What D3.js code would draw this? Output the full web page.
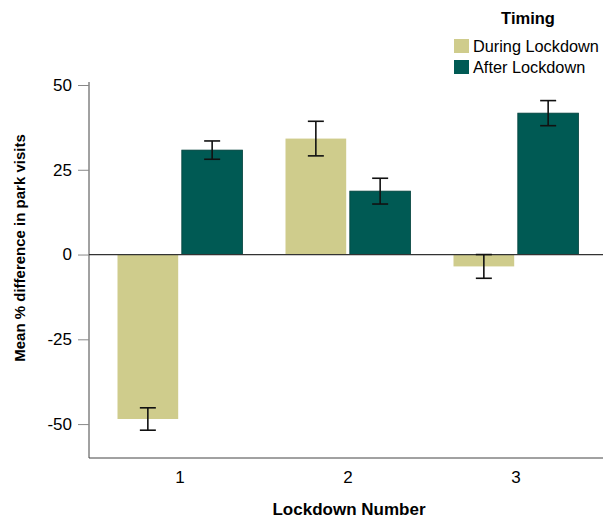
<!DOCTYPE html>
<html><head><meta charset="utf-8">
<script src="https://cdn.jsdelivr.net/npm/d3@7"></script>
<style>body{margin:0;background:#fff}svg{display:block}text{font-family:"Liberation Sans",Arial,sans-serif;fill:#000}</style>
</head><body><svg id="c" width="603" height="518"></svg>
<script>
const categories = ["1","2","3"];
const seriesNames = ["During Lockdown","After Lockdown"];
const duringValues = [-48.5, 34.2, -3.5];
const duringErr = [3.3, 5.1, 3.5];
const afterValues = [30.8, 18.7, 41.7];
const afterErr = [2.7, 3.8, 3.7];
const yTicks = [50, 25, 0, -25, -50];
const colors = ["#cfcc8c", "#005a54"];

const svg = d3.select("#c");
const x = d3.scaleBand().domain(categories).range([96, 600]);
const xs = d3.scaleBand().domain(seriesNames).range([21.5, 168-21.5]).paddingInner(0.056);
const y = d3.scaleLinear().domain([-60, 50]).range([458, 85]);

const data = [];
categories.forEach((c,i)=>{
  data.push({c, s:seriesNames[0], v:duringValues[i], e:duringErr[i], col:colors[0]});
  data.push({c, s:seriesNames[1], v:afterValues[i], e:afterErr[i], col:colors[1]});
});

// axes
const yAxis = svg.append("g").attr("transform","translate(89,0)")
  .call(d3.axisLeft(y).tickValues(yTicks).tickSize(11).tickPadding(6).tickFormat(d=>String(d)));
yAxis.select(".domain").attr("d", `M0,${y(50)-3}V458`).attr("stroke","#444");
yAxis.selectAll(".tick line").attr("stroke","#888");
yAxis.selectAll("text").style("font-size","17px");

const xAxis = svg.append("g").attr("transform","translate(0,458)")
  .call(d3.axisBottom(x).tickSize(0).tickPadding(13));
xAxis.select(".domain").attr("d","M89,0H603").attr("stroke","#444");
xAxis.selectAll("text").style("font-size","17px");

// bars
svg.append("g").selectAll("rect").data(data).join("rect")
  .attr("x", d=>x(d.c)+xs(d.s))
  .attr("width", xs.bandwidth())
  .attr("y", d=>y(Math.max(0,d.v)))
  .attr("height", d=>Math.abs(y(d.v)-y(0)))
  .attr("fill", d=>d.col)
  .attr("stroke", d=>d.s===seriesNames[1]?"#00403b":"none")
  .attr("stroke-width",0.8);

// zero line
svg.append("line").attr("x1",89).attr("x2",603).attr("y1",y(0)).attr("y2",y(0)).attr("stroke","#333").attr("stroke-width",1.2);

// error bars
const eg = svg.append("g").attr("stroke","#111").attr("stroke-width",1.6);
data.forEach(d=>{
  const cx = x(d.c)+xs(d.s)+xs.bandwidth()/2;
  eg.append("line").attr("x1",cx).attr("x2",cx).attr("y1",y(d.v+d.e)).attr("y2",y(d.v-d.e));
  [d.v+d.e, d.v-d.e].forEach(v=>eg.append("line").attr("x1",cx-8).attr("x2",cx+8).attr("y1",y(v)).attr("y2",y(v)));
});

// titles
svg.append("text").attr("x",349).attr("y",515).attr("text-anchor","middle")
  .style("font-size","17px").style("font-weight","bold").text("Lockdown Number");
svg.append("text").attr("transform","translate(25,248) rotate(-90)").attr("text-anchor","middle")
  .style("font-size","15px").style("font-weight","bold").text("Mean % difference in park visits");

// legend
const lg = svg.append("g");
lg.append("text").attr("x",528).attr("y",24).attr("text-anchor","middle")
  .style("font-size","16.5px").style("font-weight","bold").text("Timing");
seriesNames.forEach((s,i)=>{
  lg.append("rect").attr("x",454).attr("y",39+i*21).attr("width",15).attr("height",14).attr("fill",colors[i]);
  lg.append("text").attr("x",473).attr("y",52+i*21).style("font-size","16.3px").text(s);
});
</script></body></html>
